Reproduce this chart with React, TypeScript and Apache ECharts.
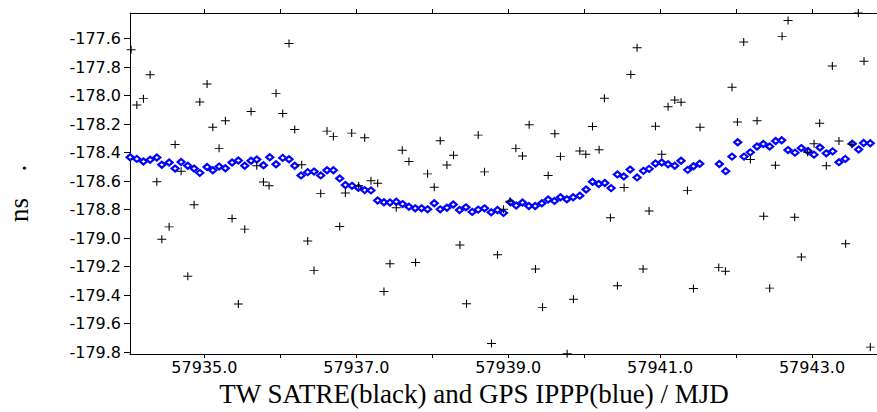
import React, { useEffect, useRef } from 'react';
import * as echarts from 'echarts';

const blueMjd = [
  57934.022, 57934.110, 57934.197, 57934.285, 57934.373, 57934.439, 57934.535, 57934.614, 57934.693, 57934.781,
  57934.864, 57934.939, 57935.035, 57935.110, 57935.193, 57935.276, 57935.364, 57935.447, 57935.531, 57935.614,
  57935.689, 57935.777, 57935.860, 57935.943, 57936.031, 57936.114, 57936.189, 57936.272, 57936.360, 57936.443,
  57936.531, 57936.614, 57936.698, 57936.781, 57936.856, 57936.943, 57937.027, 57937.110, 57937.193, 57937.281,
  57937.364, 57937.443, 57937.526, 57937.609, 57937.693, 57937.776, 57937.859, 57937.938, 57938.026, 57938.105,
  57938.193, 57938.276, 57938.359, 57938.443, 57938.526, 57938.605, 57938.688, 57938.776, 57938.859, 57938.938,
  57939.030, 57939.105, 57939.188, 57939.272, 57939.355, 57939.443, 57939.526, 57939.609, 57939.688, 57939.772,
  57939.855, 57939.943, 57940.026, 57940.110, 57940.193, 57940.272, 57940.355, 57940.438, 57940.522, 57940.605,
  57940.697, 57940.781, 57940.855, 57940.939, 57941.022, 57941.105, 57941.193, 57941.276, 57941.364, 57941.439,
  57941.522, 57941.780, 57941.864, 57941.947, 57942.022, 57942.105, 57942.188, 57942.276, 57942.359, 57942.443,
  57942.522, 57942.601, 57942.684, 57942.776, 57942.859, 57942.947, 57943.026, 57943.105, 57943.188, 57943.272,
  57943.355, 57943.438, 57943.530, 57943.614, 57943.680, 57943.767,
];
const blueNs = [
  -178.432, -178.444, -178.462, -178.450, -178.434, -178.485, -178.469, -178.512, -178.466, -178.492,
  -178.512, -178.542, -178.501, -178.524, -178.498, -178.510, -178.469, -178.455, -178.492, -178.457,
  -178.448, -178.489, -178.432, -178.482, -178.437, -178.446, -178.492, -178.560, -178.537, -178.533,
  -178.560, -178.524, -178.524, -178.581, -178.627, -178.633, -178.647, -178.663, -178.665, -178.736,
  -178.748, -178.750, -178.745, -178.761, -178.780, -178.791, -178.791, -178.798, -178.755, -178.798,
  -178.787, -178.764, -178.803, -178.784, -178.816, -178.800, -178.791, -178.819, -178.803, -178.823,
  -178.748, -178.771, -178.750, -178.775, -178.775, -178.755, -178.729, -178.739, -178.713, -178.727,
  -178.713, -178.702, -178.659, -178.604, -178.620, -178.613, -178.649, -178.553, -178.567, -178.519,
  -178.574, -178.528, -178.514, -178.476, -178.469, -178.482, -178.492, -178.457, -178.521, -178.496,
  -178.478, -178.480, -178.530, -178.428, -178.327, -178.428, -178.398, -178.357, -178.339, -178.357,
  -178.318, -178.313, -178.382, -178.400, -178.368, -178.389, -178.414, -178.364, -178.405, -178.391,
  -178.467, -178.444, -178.337, -178.378, -178.332, -178.334,
];

const blackMjd = [
  57934.035, 57934.110, 57934.197, 57934.285, 57934.373, 57934.439, 57934.535, 57934.614, 57934.693, 57934.781,
  57934.864, 57934.939, 57935.035, 57935.110, 57935.193, 57935.276, 57935.364, 57935.447, 57935.531, 57935.614,
  57935.689, 57935.777, 57935.851, 57935.943, 57936.031, 57936.114, 57936.189, 57936.281, 57936.360, 57936.443,
  57936.531, 57936.614, 57936.698, 57936.781, 57936.856, 57936.939, 57937.031, 57937.110, 57937.193, 57937.281,
  57937.364, 57937.443, 57937.526, 57937.605, 57937.693, 57937.780, 57937.938, 57938.026, 57938.105, 57938.193,
  57938.280, 57938.364, 57938.451, 57938.605, 57938.688, 57938.780, 57938.859, 57938.938,
  57939.022, 57939.101, 57939.188, 57939.276, 57939.359, 57939.452, 57939.526, 57939.614, 57939.688, 57939.776,
  57939.859, 57939.943, 57940.022, 57940.110, 57940.197, 57940.267, 57940.346, 57940.438, 57940.526,
  57940.614, 57940.697, 57940.776, 57940.855, 57940.939, 57941.022, 57941.105, 57941.193, 57941.276, 57941.360,
  57941.439, 57941.526, 57941.772, 57941.860, 57941.947, 57942.018, 57942.101, 57942.189,
  57942.277, 57942.364, 57942.443, 57942.518, 57942.606, 57942.685, 57942.772, 57942.860, 57942.943, 57943.027,
  57943.101, 57943.189, 57943.268, 57943.355, 57943.443, 57943.526, 57943.610, 57943.685, 57943.768,
];
const blackNs = [
  -177.678, -178.066, -178.021, -177.854, -178.604, -179.008, -178.921, -178.343, -178.530, -179.267,
  -178.766, -178.044, -177.918, -178.222, -178.370, -178.176, -178.862, -179.463, -178.937, -178.112,
  -178.492, -178.606, -178.633, -177.984, -178.126, -177.634, -178.238, -178.485, -179.020, -179.228,
  -178.686, -178.249, -178.286, -178.919, -178.684, -178.263, -178.633, -178.295, -178.597, -178.615,
  -179.374, -179.180, -178.787, -178.384, -178.462, -179.171, -178.549, -178.643, -178.316, -178.487,
  -178.418, -179.049, -179.461, -178.277, -178.535, -179.740, -179.116, -178.798,
  -178.741, -178.370, -178.423, -178.204, -179.216, -179.486, -178.560, -178.268, -178.428, -179.811,
  -179.429, -178.389, -178.412, -178.217, -178.380, -178.018, -178.857, -179.335, -178.645,
  -177.851, -177.664, -179.216, -178.809, -178.215, -178.412, -178.078, -178.030, -178.046, -178.665,
  -179.354, -178.222, -179.207, -179.232, -177.941, -178.185, -177.623, -178.448,
  -178.176, -178.846, -179.351, -178.489, -177.584, -177.472, -178.853, -179.132, -178.398, -178.338,
  -178.194, -178.492, -177.792, -178.318, -179.040, -178.341, -177.420, -177.758, -179.765,
];

const xTickValues = [57935, 57936, 57937, 57938, 57939, 57940, 57941, 57942, 57943];
const xLabelValues = [57935, 57937, 57939, 57941, 57943];
const yTickValues = [-179.8, -179.6, -179.4, -179.2, -179.0, -178.8, -178.6, -178.4, -178.2, -178.0, -177.8, -177.6];
const xTitle = 'TW SATRE(black) and GPS IPPP(blue) / MJD';
const yTitle = 'ns';

const crossSymbol = 'path://M0,4.4H10V5.6H0Z M4.4,0H5.6V10H4.4Z';

export default function App() {
  const ref = useRef<HTMLDivElement>(null);
  useEffect(() => {
    if (!ref.current) return;
    const chart = echarts.init(ref.current, null, { renderer: 'svg' });
    const tickFont = { fontFamily: '"DejaVu Sans"', fontSize: 16, color: '#000' };
    const xMin = 57934.02;
    const xMax = 57943.856;
    chart.setOption({
      animation: false,
      backgroundColor: '#fff',
      grid: { left: 130, right: 0, top: 13, bottom: 50, containLabel: false },
      xAxis: [
        {
          type: 'value', position: 'bottom', min: xMin, max: xMax,
          axisLine: { show: true, lineStyle: { color: '#000', width: 1 } },
          axisTick: { show: true, length: 4, customValues: xTickValues, lineStyle: { color: '#000' } },
          axisLabel: { customValues: xLabelValues, formatter: (v: number) => v.toFixed(1), margin: 5, ...tickFont },
          splitLine: { show: false },
          name: xTitle, nameLocation: 'middle', nameGap: 24,
          nameTextStyle: { fontFamily: '"Liberation Serif"', fontSize: 27, color: '#000', padding: [0, 59, 0, 0] },
        },
        {
          type: 'value', position: 'top', min: xMin, max: xMax,
          axisLine: { show: true, lineStyle: { color: '#000', width: 1 } },
          axisTick: { show: true, length: 4, customValues: xTickValues, lineStyle: { color: '#000' } },
          axisLabel: { show: false },
          splitLine: { show: false },
        },
      ],
      yAxis: {
        type: 'value', min: -179.814, max: -177.42,
        axisLine: { show: true, lineStyle: { color: '#000', width: 1 } },
        axisTick: { show: true, length: 6, customValues: yTickValues, lineStyle: { color: '#000' } },
        axisLabel: { customValues: yTickValues, formatter: (v: number) => v.toFixed(1), margin: 9, ...tickFont },
        splitLine: { show: false },
      },
      series: [
        {
          type: 'scatter', xAxisIndex: 0,
          data: blueMjd.map((x, i) => [x, blueNs[i]]),
          symbol: 'diamond', symbolSize: [7, 6],
          itemStyle: { color: '#ffffff', borderColor: '#0000ff', borderWidth: 2.2, opacity: 1 },
          z: 2,
        },
        {
          type: 'scatter', xAxisIndex: 0,
          data: blackMjd.map((x, i) => [x, blackNs[i]]),
          symbol: crossSymbol, symbolSize: [9, 8],
          itemStyle: { color: '#000000', opacity: 1 },
          z: 3,
        },
      ],
      graphic: [
        {
          type: 'text', x: 19, y: 210, rotation: Math.PI / 2,
          style: { text: yTitle, font: '27px "Liberation Serif"', fill: '#000', align: 'center', verticalAlign: 'middle' },
        },
        {
          type: 'text', x: 17, y: 168, rotation: Math.PI / 2,
          style: { text: '.', font: '27px "Liberation Serif"', fill: '#000', align: 'center', verticalAlign: 'middle' },
        },
      ],
    });
    return () => chart.dispose();
  }, []);
  return <div ref={ref} style={{ position: 'fixed', left: 0, top: 0, width: 877, height: 412 }} />;
}
